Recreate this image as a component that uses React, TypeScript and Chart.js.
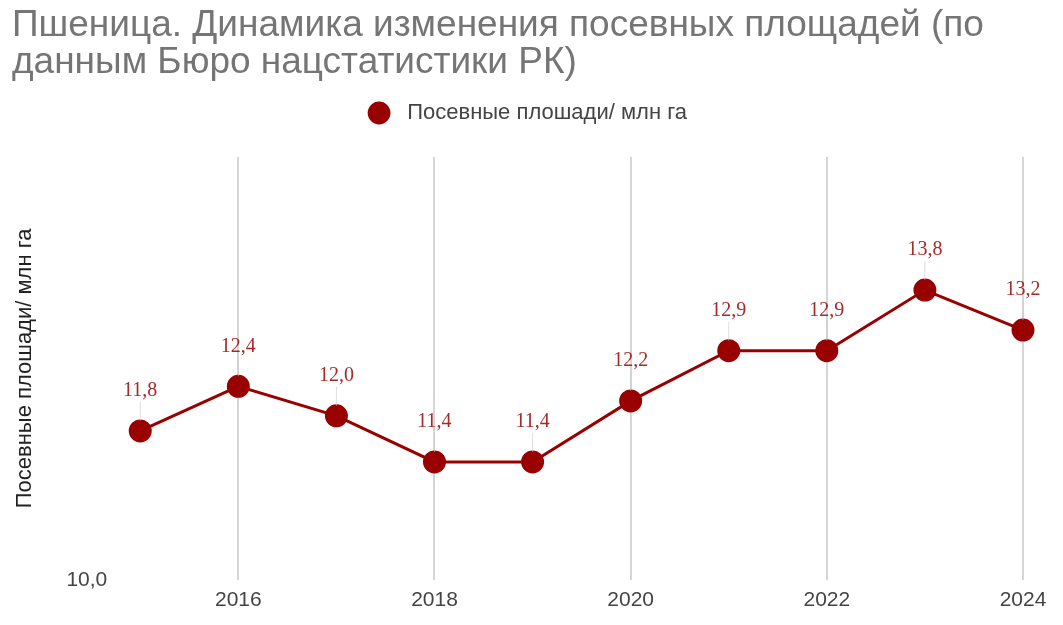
import React, { useEffect, useRef } from "react";
import { Chart, registerables } from "chart.js";

Chart.register(...registerables);

const years = [2015, 2016, 2017, 2018, 2019, 2020, 2021, 2022, 2023, 2024];
const areas = [11.8, 12.4, 12.0, 11.4, 11.4, 12.2, 12.9, 12.9, 13.8, 13.2];
const titleLines = [
  "Пшеница. Динамика изменения посевных площадей (по",
  "данным Бюро нацстатистики РК)",
];
const seriesName = "Посевные плошади/ млн га";
const yTickValues = [10];

const RED = "#990000";
const LABEL_RED = "#a52a2a";
const FONT = '"Liberation Sans", Arial, sans-serif';

const fmt = (v: number) => v.toFixed(1).replace(".", ",");

const labelPlugin = {
  id: "valueLabels",
  afterDatasetsDraw(chart: any) {
    const ctx = chart.ctx;
    const meta = chart.getDatasetMeta(0);
    ctx.save();
    meta.data.forEach((pt: any, i: number) => {
      const x = pt.x;
      const y = pt.y;
      ctx.strokeStyle = "rgba(200,200,200,0.6)";
      ctx.lineWidth = 1;
      ctx.beginPath();
      ctx.moveTo(x, y - 10);
      ctx.lineTo(x, y - 29);
      ctx.stroke();
      ctx.fillStyle = LABEL_RED;
      ctx.font = '20px "Liberation Serif", "Times New Roman", serif';
      ctx.textAlign = "center";
      ctx.textBaseline = "middle";
      ctx.fillText(fmt(areas[i]), x, y - 40);
    });
    ctx.restore();
  },
};

const legendGap = {
  id: "legendGap",
  beforeInit(chart: any) {
    const fit = chart.legend.fit;
    chart.legend.fit = function () {
      fit.bind(chart.legend)();
      this.height += 23;
    };
  },
};

export default function App() {
  const ref = useRef<HTMLCanvasElement>(null);
  useEffect(() => {
    const chart = new Chart(ref.current!, {
      type: "line",
      data: {
        datasets: [
          {
            label: seriesName,
            data: years.map((y, i) => ({ x: y, y: areas[i] })),
            borderColor: RED,
            backgroundColor: RED,
            borderWidth: 3,
            pointRadius: 10,
            pointHoverRadius: 10,
            pointBackgroundColor: RED,
            pointBorderColor: RED,
            tension: 0,
          },
        ],
      },
      options: {
        animation: false,
        responsive: true,
        maintainAspectRatio: false,
        layout: { padding: { left: 12, right: 20, top: 0, bottom: 4 } },
        plugins: {
          title: {
            display: true,
            text: titleLines,
            align: "start",
            color: "#757575",
            font: { family: FONT, size: 37, weight: "normal", lineHeight: 1.0 },
            padding: { top: 7, bottom: 11 },
          },
          legend: {
            display: true,
            position: "top",
            labels: {
              usePointStyle: true,
              pointStyle: "circle",
              boxHeight: 14,
              boxWidth: 22,
              color: "#444",
              font: { family: FONT, size: 22 },
              padding: 10,
              generateLabels: (chart: any) =>
                Chart.defaults.plugins.legend.labels
                  .generateLabels(chart)
                  .map((l: any) => ({ ...l, text: " " + l.text })),
            },
          },
          tooltip: { enabled: false },
        },
        scales: {
          x: {
            type: "linear",
            min: 2014.776,
            max: 2024.204,
            ticks: {
              stepSize: 2,
              includeBounds: false,
              color: "#444",
              font: { family: FONT, size: 21 },
              padding: 8,
              callback: (v: any) => String(v),
            },
            grid: { color: "#d6d6d6", lineWidth: 2, drawTicks: false },
            border: { display: false },
          },
          y: {
            type: "logarithmic",
            min: 10,
            max: 16,
            afterBuildTicks: (axis: any) => {
              axis.ticks = yTickValues.map((v) => ({ value: v }));
            },
            ticks: {
              color: "#444",
              font: { family: FONT, size: 21 },
              padding: 3,
              callback: (v: any) => fmt(Number(v)),
            },
            grid: { display: false },
            border: { display: false },
            title: {
              display: true,
              text: seriesName,
              color: "#222",
              font: { family: FONT, size: 22 },
              padding: { top: 0, bottom: 25 },
            },
          },
        },
      },
      plugins: [labelPlugin, legendGap],
    });
    return () => chart.destroy();
  }, []);
  return (
    <div style={{ position: "absolute", left: 0, top: 0, width: 1063, height: 625, background: "#fff" }}>
      <canvas ref={ref} />
    </div>
  );
}
